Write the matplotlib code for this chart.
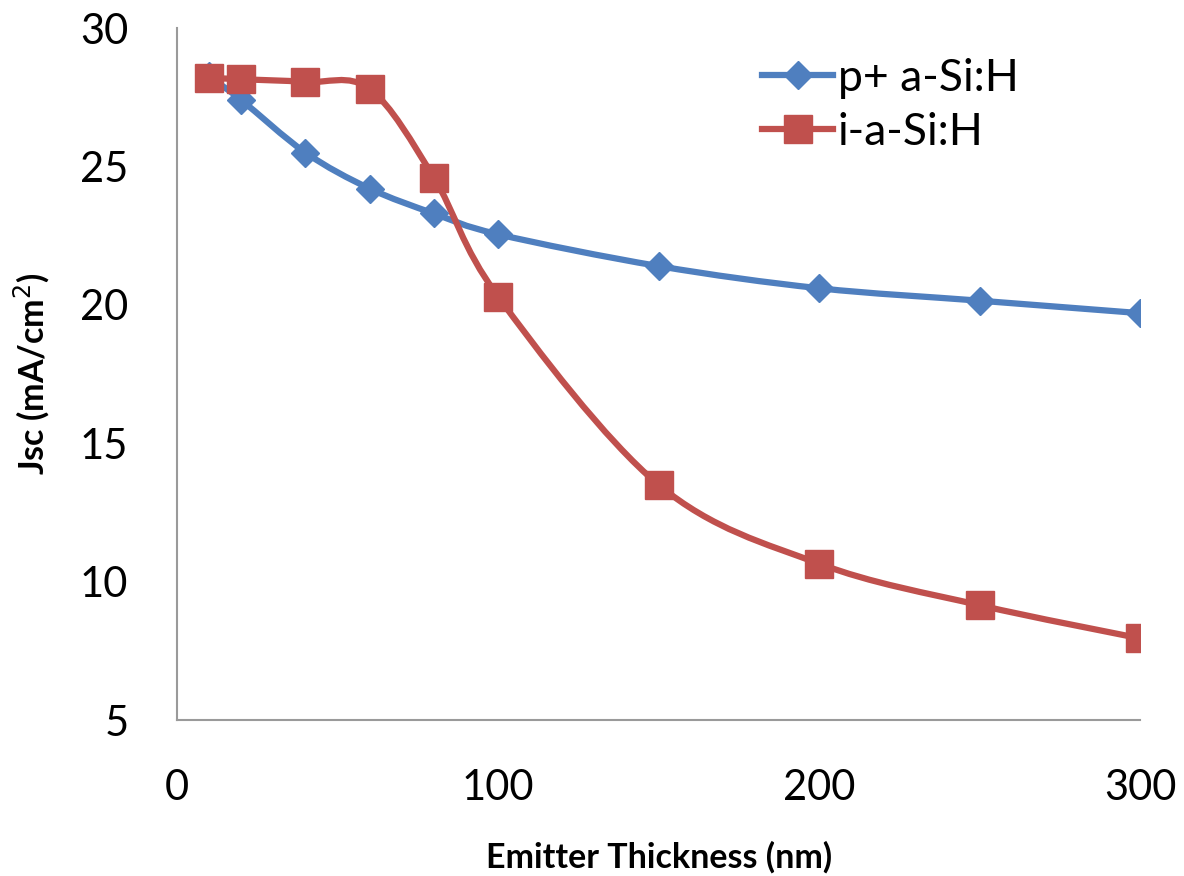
import numpy as np
import matplotlib.pyplot as plt
from matplotlib.path import Path
from matplotlib.patches import PathPatch
from matplotlib.lines import Line2D

plt.rcParams['font.family'] = ['Lato', 'DejaVu Sans']

thickness = [10, 20, 40, 60, 80, 100, 150, 200, 250, 300]
jsc_p = [28.25, 27.4, 25.5, 24.2, 23.3, 22.55, 21.4, 20.6, 20.15, 19.7]
jsc_i = [28.2, 28.15, 28.05, 27.8, 24.6, 20.3, 13.5, 10.65, 9.15, 7.95]

blue = '#4F7FBF'
red = '#C0504D'


def smooth_path(x, y):
    # Excel-like smoothed line: cubic bezier with Catmull-Rom control points
    p = np.column_stack([x, y]).astype(float)
    n = len(p)
    verts = [p[0]]
    codes = [Path.MOVETO]
    for i in range(n - 1):
        p0 = p[i - 1] if i > 0 else p[i]
        p3 = p[i + 2] if i + 2 < n else p[i + 1]
        c1 = p[i] + (p[i + 1] - p0) / 6
        c2 = p[i + 1] - (p3 - p[i]) / 6
        verts += [c1, c2, p[i + 1]]
        codes += [Path.CURVE4] * 3
    return Path(verts, codes)


fig = plt.figure(figsize=(11.84, 8.76), dpi=100)
ax = fig.add_axes([0.1495, 0.178, 0.8135, 0.79])

for xs, ys, col, mk, ms in [(thickness, jsc_p, blue, 'D', 14),
                            (thickness, jsc_i, red, 's', 20)]:
    ax.add_patch(PathPatch(smooth_path(xs, ys), facecolor='none',
                           edgecolor=col, lw=4.5, zorder=2))
    ax.plot(xs, ys, ls='none', marker=mk, ms=ms, color=col, zorder=3)

ax.set_xlim(0, 300)
ax.set_ylim(5, 30)
ax.set_xticks([0, 100, 200, 300])
ax.set_yticks([5, 10, 15, 20, 25, 30])
ax.tick_params(length=0, labelsize=30)
ax.tick_params(axis='y', pad=35)
ax.tick_params(axis='x', pad=35)
for s in ['top', 'right']:
    ax.spines[s].set_visible(False)
for s in ['left', 'bottom']:
    ax.spines[s].set_color('#9a9a9a')
    ax.spines[s].set_linewidth(1.5)

ax.set_xlabel('Emitter Thickness (nm)', fontsize=24.5, fontweight='bold', labelpad=25)
ax.set_ylabel('Jsc (mA/cm$^2$)', fontsize=24.5, fontweight='bold', labelpad=20)

handles = [Line2D([], [], color=blue, lw=4.5, marker='D', ms=14),
           Line2D([], [], color=red, lw=4.5, marker='s', ms=20)]
ax.legend(handles, ['p+ a-Si:H', 'i-a-Si:H'], loc='upper left',
          bbox_to_anchor=(0.566, 1.015), frameon=False, fontsize=32,
          handlelength=1.6, handletextpad=0.1, labelspacing=0.3)

fig.savefig('out.png', dpi=100)
